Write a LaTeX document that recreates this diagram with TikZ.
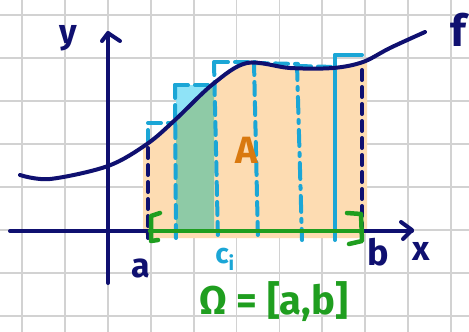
\documentclass[tikz,border=0pt]{standalone}
\usepackage{fontspec}
\setmainfont{Fira Sans}
\definecolor{navy}{HTML}{0F1070}
\definecolor{sky}{HTML}{1BA6D6}
\definecolor{peach}{HTML}{FDDCB2}
\definecolor{grn}{HTML}{1F9E1F}
\definecolor{sage}{HTML}{8ECAA6}
\definecolor{aqua}{HTML}{8FE3F7}
\definecolor{amber}{HTML}{D9790F}
\definecolor{gridc}{HTML}{D2D2D2}
\begin{document}
\begin{tikzpicture}[x=1pt,y=-1pt, line cap=round, line join=round,
  gridline/.style={gridc, line width=1.8pt},
  ink/.style={navy, line width=4pt},
  inkdash/.style={navy, line width=4pt, dash pattern=on 10pt off 7pt},
  skyline/.style={sky, line width=4pt},
  skydash/.style={sky, line width=4pt, dash pattern=on 13pt off 7pt},
  skydashdot/.style={sky, line width=4pt, dash pattern=on 16pt off 7pt on 3pt off 7pt},
  grnline/.style={grn, line width=4.5pt},
  lbl/.style={inner sep=0pt, font=\fontsize{#1}{#1}\selectfont\bfseries}]
\useasboundingbox (0,0) rectangle (469,332);
\fill[white] (0,0) rectangle (469,332);
% grid
\foreach \i in {0,...,10} \draw[gridline] ({22+42.9*\i},0) -- ({22+42.9*\i},332);
\foreach \j in {0,...,7} \draw[gridline] (0,{15+43*\j}) -- (469,{15+43*\j});
% area under curve
\begin{scope}
  \clip[rounded corners=10pt] (143,40) rectangle (367,238);
  \fill[peach] (20,238) -- plot[smooth, tension=0.55] coordinates {(20,175) (50,179) (108,166) (147,144) (175,120) (213,84) (247,63) (290,68) (333,68) (363,62) (390,48) (425,32)} -- (425,238) -- cycle;
\end{scope}
% highlighted strip
\fill[aqua] (176,85) rectangle (214,231);
\begin{scope}
  \clip (176,0) rectangle (214,231);
  \fill[sage] (20,240) -- plot[smooth, tension=0.55] coordinates {(20,175) (50,179) (108,166) (147,144) (175,120) (213,84) (247,63) (290,68) (333,68) (363,62) (390,48) (425,32)} -- (425,240) -- cycle;
\end{scope}
% rectangle tops
\draw[skydash] (148,143) -- (148,123) -- (175,123);
\draw[skydash] (175,85) -- (215,85);
\draw[skydash] (215,62) -- (255,62);
\draw[skydash] (255,63) -- (298,64);
\draw[skydash] (298,66) -- (335,67);
\draw[skyline] (335,55) -- (362,55);
% vertical strip lines
\draw[skydash] (175,85) -- (176,240);
\draw[skydash] (214,62) -- (218,240);
\draw[skydash] (254,62) -- (258,240);
\draw[skydashdot] (297,64) -- (302,240);
\draw[skyline] (335,55) -- (335,240);
\draw[inkdash] (148,148) -- (148,238);
\draw[inkdash] (362,70) -- (362,240);
% curve
\draw[ink] plot[smooth, tension=0.55] coordinates {(20,175) (50,179) (108,166) (147,144) (175,120) (213,84) (247,63) (290,68) (333,68) (363,62) (390,48) (425,32)};
% axes
\draw[ink] (10,231) -- (412,231);
\draw[ink] (401,222) -- (412,230) -- (403,239);
\draw[ink] (108,283) -- (108,33);
\draw[ink] (102,41) -- (108,33) -- (120,41);
% interval
\draw[grnline] (150,231) -- (362,231);
\draw[grnline] (160,213) -- (151,216) -- (151,241) -- (158,240);
\draw[grnline] (347,213) -- (361,214) -- (362,241) -- (349,244);
% labels
\node[lbl=34, navy] (ylab) at (68,38) {y};
\node[lbl=44, navy] (flab) at (458,30) {f};
\node[lbl=34, navy] (xlab) at (421,251) {x};
\node[lbl=34, navy] (alab) at (141,268) {a};
\node[lbl=36, navy] (blab) at (378,252) {b};
\node[lbl=28, sky] (cilab) at (225,259) {c\textsubscript{i}};
\node[lbl=40, grn] (omega) at (274,302) {Ω = [a,b]};
\node[lbl=38, amber] (Alab) at (247,150) {A};
\end{tikzpicture}
\end{document}
